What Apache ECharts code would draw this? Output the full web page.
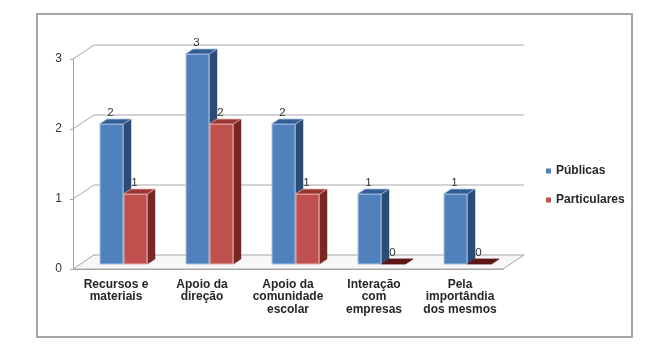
<!DOCTYPE html>
<html><head><meta charset="utf-8">
<script src="https://cdn.jsdelivr.net/npm/echarts@6/dist/echarts.min.js"></script>
<style>html,body{margin:0;padding:0;background:#fff}#c{width:667px;height:359px}</style>
</head><body><div id="c"></div>
<script>
const categories = ['Recursos e\nmateriais','Apoio da\ndireção','Apoio da\ncomunidade\nescolar','Interação\ncom\nempresas','Pela\nimportândia\ndos mesmos'];
const seriesNames = ['Públicas','Particulares'];
const publicas = [2,3,2,1,1];
const particulares = [1,2,1,0,0];
const yTicks = [0,1,2,3];

const FONT = "'Liberation Sans', Arial, sans-serif";
const BACK_DX = 21, BACK_DY = -14;   // wall depth
const OFF_DX = 7.5, OFF_DY = -5;     // bar front face depth
const BD_X = 7.5, BD_Y = -5;         // bar depth
const BAR_W = 24;
const palette = [
  {face:'#4F81BD', top:'#325E93', side:'#2A4C77', edge:'#A9C4E6'},
  {face:'#C0504D', top:'#983633', side:'#7A2624', edge:'#E8B1AF'}
];

function frameItem(params, api){
  const cs = params.coordSys;
  const v = api.value(1);
  const y = api.coord([0, v])[1];
  const x0 = cs.x, x1 = cs.x + cs.width;
  const line = {stroke:'#A6A6A6', lineWidth:1, fill:null};
  if (v === 0) {
    return {type:'polygon', shape:{points:[[x0,y],[x1,y],[x1+BACK_DX,y+BACK_DY],[x0+BACK_DX,y+BACK_DY]]},
       style:{fill:'#f7f7f7', stroke:'#A6A6A6', lineWidth:1}};
  }
  return {type:'polyline', shape:{points:[[x0,y],[x0+BACK_DX,y+BACK_DY],[x1+BACK_DX,y+BACK_DY]]}, style:line};
}

function barItem(si){
  return function(params, api){
    const i = api.value(0), v = api.value(1);
    const t = api.coord([i, v]), b = api.coord([i, 0]);
    const c = palette[si];
    const xl = t[0] + OFF_DX - (si === 0 ? BAR_W : 0);
    const xr = xl + BAR_W;
    const yt = t[1] + OFF_DY, yb = b[1] + OFF_DY;
    const ch = [];
    if (yb - yt > 0.5) {
      ch.push({type:'polygon', shape:{points:[[xr,yt],[xr+BD_X,yt+BD_Y],[xr+BD_X,yb+BD_Y],[xr,yb]]},
        style:{fill:c.side, stroke:c.side, lineWidth:0.5}});
      ch.push({type:'rect', shape:{x:xl+0.5, y:yt, width:BAR_W-1, height:yb-yt},
        style:{fill:c.face, stroke:c.edge, lineWidth:1}});
    }
    ch.push({type:'polygon', shape:{points:[[xl,yt],[xl+BD_X,yt+BD_Y],[xr+BD_X,yt+BD_Y],[xr,yt]]},
      style:{fill: v === 0 ? '#5E1614' : c.top, stroke: v === 0 ? '#5E1614' : c.edge, lineWidth: 0.8}});
    ch.push({type:'text', style:{text:String(v), x:(xl+xr)/2 - 1, y:yt - 11, align:'center', verticalAlign:'middle',
      fontSize:11.5, fontFamily:FONT, fill:'#333'}});
    return {type:'group', children:ch};
  };
}

const chart = echarts.init(document.getElementById('c'), null, {renderer:'canvas'});
chart.setOption({
  animation:false,
  backgroundColor:'#fff',
  graphic:[{type:'rect', shape:{x:37, y:14, width:595, height:323}, style:{fill:null, stroke:'#A6A6A6', lineWidth:2}, z:-1}],
  grid:{left:73, top:59, width:430, height:210},
  legend:{data:seriesNames, orient:'vertical', left:541, top:159, itemWidth:5, itemHeight:5, itemGap:15, icon:'rect',
    textStyle:{fontSize:12, fontWeight:'bold', fontFamily:FONT, color:'#262626', lineHeight:14}},
  xAxis:{type:'category', data:categories,
    axisLine:{lineStyle:{color:'#A6A6A6'}}, axisTick:{length:4, lineStyle:{color:'#A6A6A6'}},
    axisLabel:{interval:0, margin:9, fontSize:12, fontWeight:'bold', lineHeight:12.7, fontFamily:FONT, color:'#262626'}},
  yAxis:{type:'value', min:0, max:3, interval:1,
    axisLine:{show:true, lineStyle:{color:'#A6A6A6'}}, axisTick:{show:true, length:3, lineStyle:{color:'#A6A6A6'}},
    splitLine:{show:false},
    axisLabel:{margin:11, fontSize:12, fontFamily:FONT, color:'#333'}},
  series:[
    {type:'custom', name:'frame', silent:true, z:1, renderItem:frameItem, data:yTicks.map(v=>[0,v]), clip:false},
    {type:'custom', name:seriesNames[0], z:3, itemStyle:{color:palette[0].face}, renderItem:barItem(0), data:publicas.map((v,i)=>[i,v]), clip:false},
    {type:'custom', name:seriesNames[1], z:4, itemStyle:{color:palette[1].face}, renderItem:barItem(1), data:particulares.map((v,i)=>[i,v]), clip:false}
  ]
});
</script></body></html>
